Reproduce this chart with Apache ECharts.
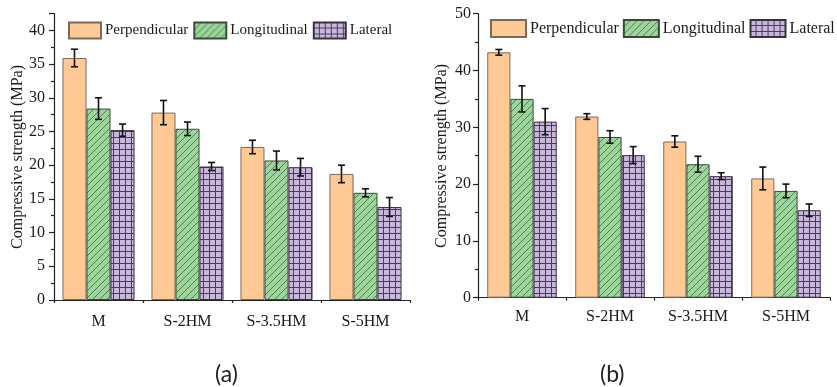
<!DOCTYPE html>
<html>
<head>
<meta charset="utf-8">
<script src="https://cdn.jsdelivr.net/npm/echarts@6/dist/echarts.min.js"></script>
<style>
html,body{margin:0;padding:0;background:#fff;}
#chart{width:837px;height:387px;}
</style>
</head>
<body>
<div id="chart"></div>
<script>
// ---- Data ----
const categories = ['M', 'S-2HM', 'S-3.5HM', 'S-5HM'];
const seriesNames = ['Perpendicular', 'Longitudinal', 'Lateral'];

// Panel (a)
const aPerp = [35.9, 27.8, 22.7, 18.7];
const aLong = [28.4, 25.4, 20.7, 15.9];
const aLat  = [25.2, 19.8, 19.7, 13.8];
const aPerpErr = [1.3, 1.8, 1.0, 1.3];
const aLongErr = [1.6, 1.0, 1.4, 0.6];
const aLatErr  = [0.9, 0.6, 1.3, 1.4];

// Panel (b)
const bPerp = [43.2, 31.9, 27.5, 21.0];
const bLong = [35.0, 28.3, 23.5, 18.8];
const bLat  = [31.0, 25.1, 21.4, 15.4];
const bPerpErr = [0.5, 0.5, 1.0, 2.0];
const bLongErr = [2.3, 1.1, 1.4, 1.2];
const bLatErr  = [2.3, 1.5, 0.6, 1.1];

const aTicks = { min: 0, max: 42.5, interval: 5 };
const bTicks = { min: 0, max: 50, interval: 10 };
const panelLabels = ['(a)', '(b)'];
const yName = 'Compressive strength (MPa)';

// ---- Patterns ----
function hatchPattern() {
  const s = 7;
  const c = document.createElement('canvas');
  c.width = s; c.height = s;
  const g = c.getContext('2d');
  g.fillStyle = '#9dd49b';
  g.fillRect(0, 0, s, s);
  g.strokeStyle = '#3d6e3d';
  g.lineWidth = 0.8;
  g.beginPath();
  g.moveTo(-1, s + 1); g.lineTo(s + 1, -1);
  g.moveTo(-1, 1); g.lineTo(1, -1);
  g.moveTo(s - 1, s + 1); g.lineTo(s + 1, s - 1);
  g.stroke();
  return c;
}
function gridPattern() {
  const s = 6;
  const c = document.createElement('canvas');
  c.width = s; c.height = s;
  const g = c.getContext('2d');
  g.fillStyle = '#c8b7db';
  g.fillRect(0, 0, s, s);
  g.strokeStyle = '#4a3b5e';
  g.lineWidth = 1;
  g.beginPath();
  g.moveTo(0, s - 0.5); g.lineTo(s, s - 0.5);
  g.moveTo(s - 0.5, 0); g.lineTo(s - 0.5, s);
  g.stroke();
  return c;
}
const fills = [
  '#fec995',
  { image: hatchPattern(), repeat: 'repeat' },
  { image: gridPattern(), repeat: 'repeat' }
];
const borders = ['#7a6a5a', '#3a4a3a', '#3a3040'];

const FONT = 'Liberation Serif';
const TXT = '#1a1a1a';
const GAP_A = 0.19, GAP_B = 0.21;

const chart = echarts.init(document.getElementById('chart'), null, { renderer: 'canvas' });

function xAxes(gridIndex, margin) {
  return [
    {
      type: 'category', gridIndex, data: categories, boundaryGap: true,
      axisLine: { lineStyle: { color: '#222', width: 1.2 } },
      axisTick: { alignWithLabel: true, length: 6, lineStyle: { color: '#222', width: 1.2 } },
      axisLabel: {
        margin, formatter: '{t|{value}}',
        rich: { t: { fontFamily: FONT, fontSize: 16, color: TXT } }
      }
    },
    {
      type: 'category', gridIndex, data: categories, boundaryGap: true, position: 'bottom',
      axisLine: { show: false },
      axisTick: { show: true, length: 3, lineStyle: { color: '#222', width: 1.2 } },
      axisLabel: { show: false }
    }
  ];
}
function yAxis(gridIndex, t, margin) {
  return {
    type: 'value', gridIndex, min: t.min, max: t.max, interval: t.interval,
    axisLine: { show: true, lineStyle: { color: '#222', width: 1.2 } },
    axisTick: { show: true, length: 5, lineStyle: { color: '#222', width: 1.2 } },
    minorTick: { show: true, splitNumber: 2, length: 3, lineStyle: { color: '#222', width: 1.2 } },
    axisLabel: {
      margin, showMaxLabel: t.max % t.interval === 0,
      formatter: '{t|{value}}',
      rich: { t: { fontFamily: FONT, fontSize: 16, color: TXT } }
    },
    splitLine: { show: false }
  };
}

function barSeries(name, i, data, xi, yi, gap) {
  return {
    type: 'bar', name, data, xAxisIndex: xi, yAxisIndex: yi,
    barGap: '0%', barCategoryGap: (gap * 100) + '%',
    itemStyle: { color: fills[i], borderColor: borders[i], borderWidth: 1 },
    emphasis: { disabled: true }, z: 2
  };
}
function errSeries(name, i, vals, errs, xi, yi, gap) {
  return {
    type: 'custom', name: name + ' err', xAxisIndex: xi, yAxisIndex: yi, z: 5,
    data: vals.map((v, k) => [k, v, errs[k]]),
    encode: { x: 0, y: 1 },
    silent: true,
    renderItem: function (params, api) {
      const c = api.value(0), v = api.value(1), e = api.value(2);
      const band = api.size([1, 0])[0];
      const bw = band * (1 - gap) / 3;
      const x = api.coord([c, v])[0] + (i - 1) * bw;
      const yt = api.coord([c, v + e])[1];
      const yb = api.coord([c, v - e])[1];
      const cap = 3.5;
      const st = { stroke: '#111', lineWidth: 1.6 };
      return {
        type: 'group', children: [
          { type: 'line', shape: { x1: x, y1: yt, x2: x, y2: yb }, style: st },
          { type: 'line', shape: { x1: x - cap, y1: yt, x2: x + cap, y2: yt }, style: st },
          { type: 'line', shape: { x1: x - cap, y1: yb, x2: x + cap, y2: yb }, style: st }
        ]
      };
    }
  };
}

const aVals = [aPerp, aLong, aLat], aErrs = [aPerpErr, aLongErr, aLatErr];
const bVals = [bPerp, bLong, bLat], bErrs = [bPerpErr, bLongErr, bLatErr];

const series = [];
seriesNames.forEach((n, i) => series.push(barSeries(n, i, aVals[i], 0, 0, GAP_A)));
seriesNames.forEach((n, i) => series.push(barSeries(n, i, bVals[i], 2, 1, GAP_B)));
seriesNames.forEach((n, i) => series.push(errSeries(n, i, aVals[i], aErrs[i], 0, 0, GAP_A)));
seriesNames.forEach((n, i) => series.push(errSeries(n, i, bVals[i], bErrs[i], 2, 1, GAP_B)));

chart.setOption({
  animation: false,
  backgroundColor: '#fff',
  textStyle: { fontFamily: FONT },
  grid: [
    { left: 54, right: 427, top: 13.5, bottom: 87 },
    { left: 478, right: 7, top: 13.7, bottom: 89.3 }
  ],
  xAxis: [...xAxes(0, 14), ...xAxes(1, 11)],
  yAxis: [yAxis(0, aTicks, 9), yAxis(1, bTicks, 7)],
  legend: [
    {
      left: 68, top: 21.5, padding: 0, icon: 'rect', itemWidth: 32, itemHeight: 16, itemGap: 5,
      data: seriesNames, selectedMode: false,
      textStyle: { fontFamily: FONT, fontSize: 15, color: TXT, padding: [0, 0, 0, -1] }
    },
    {
      left: 490, top: 19, padding: 0, icon: 'rect', itemWidth: 35, itemHeight: 17, itemGap: 4,
      width: 500,
      data: seriesNames, selectedMode: false,
      textStyle: { fontFamily: FONT, fontSize: 16, color: TXT, padding: [0, 0, 0, -1] }
    }
  ],
  graphic: [
    {
      type: 'text', rotation: Math.PI / 2, x: 10, y: 157,
      style: { text: yName, font: '16px "Liberation Serif"', fill: TXT, align: 'center', verticalAlign: 'top' }
    },
    {
      type: 'text', rotation: Math.PI / 2, x: 434, y: 156,
      style: { text: yName, font: '16px "Liberation Serif"', fill: TXT, align: 'center', verticalAlign: 'top' }
    },
    { type: 'text', left: 215, top: 363, style: { text: panelLabels[0], font: '23px Lato', fill: '#222' } },
    { type: 'text', left: 600, top: 363, style: { text: panelLabels[1], font: '23px Lato', fill: '#222' } }
  ],
  series
});
</script>
</body>
</html>
